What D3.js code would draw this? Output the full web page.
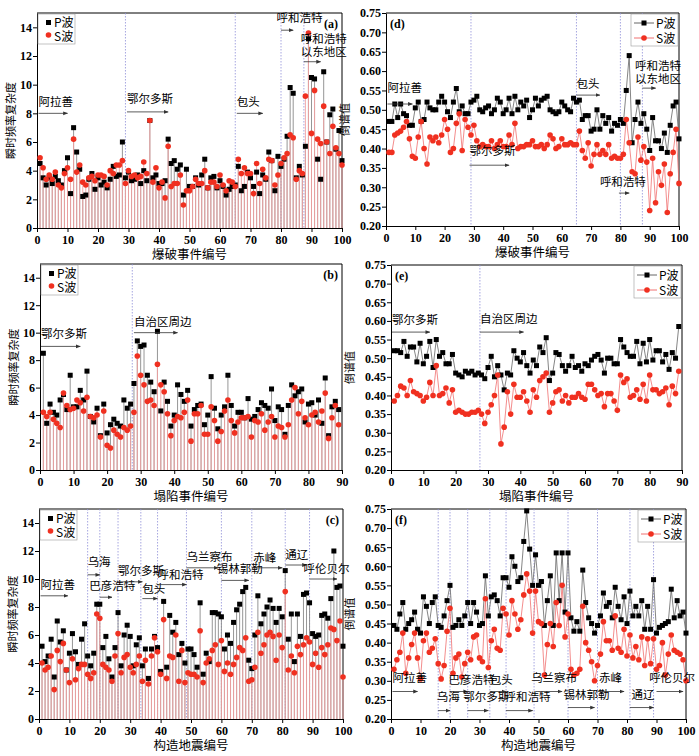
<!DOCTYPE html>
<html><head><meta charset="utf-8">
<script src="https://cdn.jsdelivr.net/npm/d3@7"></script>
<style>
body{margin:0;background:#fff}
text{font-family:"Liberation Serif","DejaVu Serif",serif}
.cjk{font-family:"Noto Sans CJK SC",sans-serif}
</style></head><body>
<svg id="chart" width="699" height="756"></svg>
<script>
// (a) blasting events, instantaneous frequency complexity
const aP = [4.5,3.5,3.0,3.5,3.1,3.6,3.3,3.0,4.0,4.9,2.4,7.0,5.3,4.1,2.2,2.3,3.4,3.8,2.7,3.5,3.0,3.2,2.8,3.4,4.3,3.6,3.7,6.0,3.5,3.9,3.3,3.4,3.7,3.1,4.0,3.3,7.5,3.5,3.7,3.1,3.1,3.3,6.2,4.5,4.7,4.1,4.4,2.3,4.1,2.9,2.9,3.5,3.0,3.7,4.8,2.8,3.5,3.6,2.8,3.3,2.9,2.3,2.7,2.9,3.0,4.3,2.6,2.9,3.9,3.5,2.9,3.9,2.4,3.7,3.4,5.3,4.7,2.6,5.0,4.3,4.8,6.4,9.8,9.4,3.5,4.3,3.7,5.7,13.2,10.5,10.4,4.8,3.4,10.9,6.0,7.9,8.3,5.5,6.8,4.7];
const aS = [4.9,4.2,3.4,3.7,3.4,3.9,3.0,2.8,3.8,4.2,3.4,6.2,3.9,4.4,3.2,3.0,3.5,3.6,3.3,3.7,3.7,3.6,3.0,4.0,3.8,4.4,4.4,4.7,3.1,4.0,3.6,3.7,3.5,3.6,4.6,3.8,7.5,3.2,4.2,2.8,3.2,2.1,5.7,2.9,3.1,3.1,3.7,1.6,2.6,2.6,2.9,3.4,3.1,3.1,4.0,2.8,3.2,3.2,2.9,3.7,3.0,2.6,3.3,3.2,2.9,4.8,3.8,4.2,3.8,3.8,2.4,4.5,3.1,4.1,3.5,4.8,4.7,3.0,3.7,4.5,4.9,5.2,6.5,6.3,3.4,4.0,3.8,9.2,13.6,6.6,9.6,6.2,5.9,8.5,6.0,5.2,7.1,5.6,5.2,4.4];
// (b) collapse events
const bP = [8.5,3.4,4.8,4.2,4.0,5.1,5.5,4.4,6.9,4.6,4.6,5.8,5.1,7.2,3.9,3.5,4.5,2.5,4.8,2.7,3.3,3.7,3.4,3.2,5.1,4.5,4.8,6.3,9.4,9.0,9.1,6.9,6.4,5.7,10.1,4.3,6.4,5.0,3.2,4.0,6.2,5.5,5.0,5.8,3.2,4.4,4.7,4.8,3.3,4.0,6.8,4.5,3.0,4.0,4.6,6.9,4.7,3.2,4.2,4.2,3.8,5.2,3.7,3.9,4.4,4.9,4.7,4.5,5.9,3.6,4.6,4.4,2.6,4.7,6.2,5.4,5.7,5.9,3.5,4.8,4.9,4.0,5.1,3.4,6.7,2.5,4.6,5.0,4.4];
const bS = [4.2,3.9,4.2,3.7,3.4,3.1,5.6,4.7,4.4,4.5,5.1,4.9,4.3,5.3,3.9,3.8,4.0,2.4,4.3,1.8,1.6,2.9,2.6,2.4,3.1,2.9,3.2,4.2,8.3,6.9,6.2,5.0,5.1,4.7,7.7,6.2,5.7,4.1,2.5,3.6,3.9,3.8,4.2,5.1,2.1,4.1,4.1,4.7,2.6,2.6,4.6,3.6,2.1,2.8,4.3,5.1,3.6,2.7,3.5,3.8,3.8,3.9,2.4,3.6,3.5,4.1,2.9,3.5,3.9,2.4,3.2,3.1,2.4,3.3,5.1,6.0,4.1,5.0,3.8,3.3,4.0,4.2,3.5,4.3,5.6,2.3,3.8,4.7,3.3];
// (c) tectonic earthquakes
const cP = [5.2,4.1,4.5,5.7,3.0,7.0,5.5,6.3,3.5,4.7,6.1,4.8,3.9,5.7,6.8,4.5,3.8,4.7,8.2,8.2,5.1,5.9,4.3,3.0,5.1,7.6,3.8,6.0,6.7,5.9,3.8,5.3,5.8,3.8,5.0,2.9,5.0,5.9,5.1,3.4,8.4,3.7,7.4,6.2,6.9,4.6,5.4,4.0,5.0,5.0,4.6,3.7,8.3,3.2,4.7,4.1,7.6,7.6,7.5,7.3,5.0,6.0,5.4,6.9,7.8,8.2,9.1,9.4,4.2,3.6,6.0,8.8,6.8,7.5,8.0,8.5,7.9,6.9,7.9,7.3,10.6,5.7,7.5,4.1,7.5,5.9,8.9,9.0,8.3,6.1,5.9,6.0,7.4,7.5,7.2,8.6,12.0,9.4,9.5,5.2];
const cS = [4.0,3.5,3.7,4.5,2.1,4.9,4.1,5.4,3.5,2.6,4.3,2.8,3.6,3.9,3.9,3.2,2.9,3.3,7.5,7.2,3.9,3.7,3.5,2.7,4.5,6.1,3.3,4.4,4.6,3.7,3.3,3.9,4.5,2.7,4.2,2.5,4.5,5.8,4.8,3.2,7.1,2.9,4.5,4.4,6.0,2.7,4.9,2.6,3.3,3.2,3.2,3.0,6.3,2.6,4.0,4.3,4.9,5.3,3.9,5.6,3.4,4.0,3.2,3.9,4.4,5.1,4.9,5.8,2.7,2.8,3.7,6.2,4.7,5.3,6.0,6.2,5.9,4.2,6.0,5.1,9.1,3.5,4.5,3.3,5.2,4.6,5.3,5.8,5.5,3.9,4.7,3.7,5.1,4.6,5.3,6.5,6.4,5.6,7.0,3.0];
// (d)(e)(f) cepstral values
const dP = [.47,.47,.515,.48,.515,.49,.485,.46,.46,.505,.52,.47,.475,.52,.505,.50,.50,.52,.535,.52,.495,.48,.52,.555,.495,.51,.49,.49,.52,.525,.535,.50,.495,.505,.51,.49,.50,.53,.52,.49,.50,.53,.49,.535,.50,.52,.51,.525,.48,.50,.53,.51,.525,.53,.535,.50,.495,.49,.495,.52,.51,.50,.495,.53,.52,.525,.475,.485,.485,.445,.45,.50,.45,.485,.465,.48,.445,.465,.46,.475,.465,.55,.64,.415,.475,.52,.465,.49,.45,.395,.48,.42,.42,.40,.44,.39,.46,.51,.52,.425];
const dS = [.39,.39,.435,.44,.445,.455,.47,.425,.38,.375,.43,.47,.40,.36,.43,.42,.43,.415,.435,.475,.45,.39,.40,.465,.49,.395,.475,.455,.435,.46,.42,.405,.41,.405,.405,.42,.40,.41,.42,.405,.405,.435,.41,.465,.40,.405,.405,.41,.41,.42,.405,.405,.41,.40,.41,.435,.425,.40,.405,.425,.41,.41,.415,.41,.41,.445,.395,.375,.415,.355,.385,.41,.385,.395,.385,.41,.375,.38,.375,.375,.385,.475,.415,.34,.335,.43,.37,.405,.365,.24,.375,.26,.34,.305,.36,.235,.335,.39,.45,.31];
const eP = [.52,.52,.515,.545,.505,.53,.53,.49,.54,.485,.505,.545,.475,.55,.505,.515,.485,.485,.51,.46,.455,.45,.465,.46,.465,.455,.46,.455,.445,.475,.505,.45,.48,.455,.415,.46,.455,.52,.50,.49,.515,.48,.46,.495,.48,.53,.515,.555,.44,.46,.515,.51,.48,.465,.48,.505,.475,.48,.465,.485,.48,.495,.505,.51,.495,.46,.50,.50,.485,.485,.55,.53,.515,.505,.505,.545,.485,.54,.49,.55,.495,.52,.52,.49,.51,.47,.515,.50,.585];
const eS = [.385,.40,.425,.42,.40,.44,.41,.405,.40,.385,.395,.435,.40,.48,.40,.405,.42,.38,.415,.355,.36,.355,.35,.35,.355,.355,.36,.35,.325,.355,.375,.40,.455,.27,.315,.41,.35,.43,.395,.395,.41,.385,.355,.415,.395,.44,.45,.46,.355,.38,.41,.415,.385,.40,.38,.395,.395,.405,.395,.39,.43,.43,.415,.40,.405,.37,.405,.405,.385,.36,.455,.435,.445,.395,.40,.415,.39,.43,.385,.455,.415,.415,.405,.41,.42,.375,.425,.405,.465];
const fP = [.445,.435,.475,.505,.435,.45,.46,.48,.435,.425,.52,.495,.45,.505,.52,.445,.44,.47,.51,.55,.44,.445,.46,.445,.47,.505,.45,.505,.48,.445,.45,.575,.47,.52,.525,.51,.47,.57,.57,.545,.625,.60,.56,.57,.665,.745,.645,.55,.63,.55,.56,.445,.51,.575,.445,.635,.51,.635,.48,.635,.465,.43,.455,.43,.59,.505,.465,.45,.425,.445,.47,.53,.495,.505,.465,.545,.495,.46,.52,.45,.535,.47,.495,.47,.51,.435,.495,.435,.565,.425,.44,.445,.45,.455,.54,.465,.51,.47,.48,.425];
const fS = [.33,.355,.375,.425,.32,.36,.395,.425,.36,.305,.405,.425,.375,.385,.41,.345,.305,.34,.43,.49,.32,.36,.37,.31,.345,.375,.355,.415,.42,.36,.35,.515,.335,.405,.435,.385,.38,.49,.475,.42,.51,.475,.435,.46,.525,.58,.535,.425,.535,.455,.45,.315,.395,.45,.39,.505,.445,.55,.415,.475,.33,.315,.32,.33,.495,.40,.38,.35,.30,.34,.37,.455,.405,.405,.38,.47,.385,.375,.435,.365,.42,.36,.39,.355,.415,.34,.41,.345,.41,.33,.34,.40,.315,.37,.42,.38,.375,.37,.355,.30];

const blastLines = [29, 65, 80, 87.5];
const collapseLines = [27.5];
const quakeLines = [16, 20, 26, 33.5, 39, 48.5, 60, 70, 81, 89];

// annotations: [text lines, textX, textY, arrowX1, arrowX2, arrowY]
const aNotes = [[['阿拉善'],0.5,8.5,0.5,10,8.0],[['鄂尔多斯'],29.5,8.7,29.5,43,8.1],[['包头'],65.5,8.5,65.5,74,8.0],
  [['呼和浩特'],78.5,14.4,80,84,13.8],[['呼和浩特','以东地区'],86.5,12.9,87.5,93,11.6]];
const dNotes = [[['阿拉善'],0.5,.545,0.5,9,.515],[['鄂尔多斯'],28.5,.384,28.5,42,.357],[['包头'],65,.557,65,73,.538],
  [['呼和浩特'],73,.302,79.5,83,.285],[['呼和浩特','以东地区'],85,.602,87.5,92,.556]];
const bNotes = [[['鄂尔多斯'],0.3,9.6,0.3,12,9.0],[['自治区周边'],28,10.5,28,41,10.0]];
const eNotes = [[['鄂尔多斯'],0.3,.592,0.3,12,.57],[['自治区周边'],27.5,.595,27.5,41,.57]];
const cNotes = [[['阿拉善'],0.5,9.3,0.5,9.5,8.8],[['乌海'],16,10.9,16,20,10.3],[['巴彦浩特'],16.5,9.2,20,24,8.7],
  [['鄂尔多斯'],26,10.3,26,34,9.8],[['包头'],34,9.0,34,39,8.6],[['呼和浩特'],39,10.0,39,48.5,9.6],
  [['乌兰察布'],48.5,11.3,48.5,59,10.8],[['锡林郭勒'],58.5,10.4,60,69,9.9],[['赤峰'],70.5,11.2,70,80,10.8],
  [['通辽'],81,11.4,81,88,11.0],[['呼伦贝尔'],87,10.4,89,98,10.0]];
const fNotes = [[['阿拉善'],0.5,.297,0.5,9,.272],[['乌海'],15.5,.247,16,20,.222],[['巴彦浩特'],19.5,.292,20,26,.272],
  [['鄂尔多斯'],24.5,.247,26,33,.222],[['包头'],33.5,.292,33.5,39,.272],[['呼和浩特'],38.5,.247,39,48,.222],
  [['乌兰察布'],47.5,.297,49,58,.272],[['锡林郭勒'],58.5,.252,60,69,.23],[['赤峰'],70.5,.297,70,79,.272],
  [['通辽'],81.5,.252,81,89,.23],[['呼伦贝尔'],87.5,.297,90,99,.272]];

const svg = d3.select('#chart');
const defs = svg.append('defs');
defs.append('marker').attr('id', 'arr').attr('viewBox', '0 0 10 10').attr('refX', 9).attr('refY', 5)
    .attr('markerWidth', 6).attr('markerHeight', 6).attr('orient', 'auto')
  .append('path').attr('d', 'M0,1L10,5L0,9Z').attr('fill', '#333');

function panel(o) {
  const g = svg.append('g');
  const x = d3.scaleLinear().domain([0, o.xmax]).range([o.l, o.r]);
  const y = d3.scaleLinear().domain(o.yd).range([o.b, o.t]);
  const xa = g.append('g').attr('transform', `translate(0,${o.b})`)
      .call(d3.axisBottom(x).ticks(o.xmax / 10).tickSize(4).tickSizeOuter(0));
  const ya = g.append('g').attr('transform', `translate(${o.l},0)`)
      .call(d3.axisLeft(y).tickValues(o.yt).tickFormat(o.yf).tickSize(4).tickSizeOuter(0));
  g.append('line').attr('x1', o.r).attr('x2', o.r).attr('y1', o.t).attr('y2', o.b).attr('stroke', '#000');
  g.append('line').attr('x1', o.l).attr('x2', o.r).attr('y1', o.t).attr('y2', o.t).attr('stroke', '#000');
  [xa, ya].forEach(a => a.selectAll('text').attr('font-size', 12).attr('font-weight', 'bold').attr('fill', '#000'));
  ya.selectAll('text').attr('x', -5);

  o.vlines.forEach(v => g.append('line').attr('x1', x(v)).attr('x2', x(v)).attr('y1', o.t).attr('y2', o.b)
      .attr('stroke', '#8f8fd8').attr('stroke-dasharray', '1.5,1.5').attr('stroke-width', 0.8));

  const pts = s => s.map((v, i) => [i + 1, v]);
  if (o.stem) {
    g.selectAll(null).data(pts(o.P)).join('line').attr('x1', d => x(d[0])).attr('x2', d => x(d[0]))
        .attr('y1', y(0)).attr('y2', d => y(d[1])).attr('stroke', '#8a8a8a').attr('stroke-width', 0.9);
    g.selectAll(null).data(pts(o.S)).join('line').attr('x1', d => x(d[0])).attr('x2', d => x(d[0]))
        .attr('y1', y(0)).attr('y2', d => y(d[1])).attr('stroke', '#f2a0a0').attr('stroke-width', 0.9);
  } else {
    const ln = d3.line().x(d => x(d[0])).y(d => y(d[1]));
    g.append('path').attr('d', ln(pts(o.P))).attr('fill', 'none').attr('stroke', '#666').attr('stroke-width', 0.8);
    g.append('path').attr('d', ln(pts(o.S))).attr('fill', 'none').attr('stroke', '#f07070').attr('stroke-width', 0.8);
  }
  g.selectAll(null).data(pts(o.P)).join('rect').attr('x', d => x(d[0]) - 2.5).attr('y', d => y(d[1]) - 2.5)
      .attr('width', 5).attr('height', 5).attr('fill', '#000');
  g.selectAll(null).data(pts(o.S)).join('circle').attr('cx', d => x(d[0])).attr('cy', d => y(d[1]))
      .attr('r', 2.8).attr('fill', '#f03020');

  o.notes.forEach(n => {
    n[0].forEach((t, k) => g.append('text').attr('class', 'cjk').attr('x', x(n[1])).attr('y', y(n[2]) + k * 13)
        .attr('font-size', 11.5).text(t));
    g.append('line').attr('x1', x(n[3])).attr('x2', x(n[4])).attr('y1', y(n[5])).attr('y2', y(n[5]))
        .attr('stroke', '#333').attr('stroke-width', 0.8).attr('marker-end', 'url(#arr)');
  });

  // legend
  if (o.stem) {
    const lg = g.append('g').attr('transform', `translate(${o.l + 1},${o.t + 1})`);
    lg.append('rect').attr('width', 37).attr('height', 30).attr('fill', '#fff').attr('stroke', '#999').attr('stroke-width', 0.6);
    lg.append('rect').attr('x', 8).attr('y', 6).attr('width', 5).attr('height', 5);
    lg.append('circle').attr('cx', 10.5).attr('cy', 21).attr('r', 2.8).attr('fill', '#f03020');
    lg.append('text').attr('class', 'cjk').attr('x', 16).attr('y', 13).attr('font-size', 12).text('P波');
    lg.append('text').attr('class', 'cjk').attr('x', 16).attr('y', 27).attr('font-size', 12).text('S波');
    g.append('text').attr('x', o.r - 4).attr('y', o.t + 15).attr('text-anchor', 'end').attr('font-size', 12)
        .attr('font-weight', 'bold').text(o.tag);
  } else {
    const lg = g.append('g').attr('transform', `translate(${o.r - 48},${o.t + 1})`);
    lg.append('rect').attr('width', 47).attr('height', 32).attr('fill', '#fff').attr('stroke', '#999').attr('stroke-width', 0.6);
    lg.append('line').attr('x1', 3).attr('x2', 23).attr('y1', 9).attr('y2', 9).attr('stroke', '#666');
    lg.append('rect').attr('x', 10.5).attr('y', 6.5).attr('width', 5).attr('height', 5);
    lg.append('line').attr('x1', 3).attr('x2', 23).attr('y1', 24).attr('y2', 24).attr('stroke', '#f07070');
    lg.append('circle').attr('cx', 13).attr('cy', 24).attr('r', 2.8).attr('fill', '#f03020');
    lg.append('text').attr('class', 'cjk').attr('x', 25).attr('y', 14).attr('font-size', 12).text('P波');
    lg.append('text').attr('class', 'cjk').attr('x', 25).attr('y', 29).attr('font-size', 12).text('S波');
    g.append('text').attr('x', o.l + 4).attr('y', o.t + 15).attr('font-size', 12).attr('font-weight', 'bold').text(o.tag);
  }
  g.append('text').attr('class', 'cjk').attr('x', (o.l + o.r) / 2).attr('y', o.b + 31).attr('text-anchor', 'middle')
      .attr('font-size', 12.5).text(o.xt);
  g.append('text').attr('class', 'cjk').attr('transform', `translate(${o.l - (o.stem ? 22 : 37)},${(o.t + o.b) / 2}) rotate(-90)`)
      .attr('text-anchor', 'middle').attr('font-size', 11).text(o.ytl);
}

const cplx = {yd: [0, 15], yt: [0, 2, 4, 6, 8, 10, 12, 14], yf: d3.format('d'), stem: true, ytl: '瞬时频率复杂度'};
const ceps = {yd: [0.2, 0.75], yt: d3.range(0.2, 0.751, 0.05), yf: d3.format('.2f'), stem: false, ytl: '倒谱值'};

panel({...cplx, l: 37, r: 342, t: 13, b: 228, xmax: 100, P: aP, S: aS, vlines: blastLines, notes: aNotes, tag: '(a)', xt: '爆破事件编号'});
panel({...ceps, l: 386, r: 679, t: 13, b: 226, xmax: 100, P: dP, S: dS, vlines: blastLines, notes: dNotes, tag: '(d)', xt: '爆破事件编号'});
panel({...cplx, l: 40, r: 342, t: 264, b: 470, xmax: 90, P: bP, S: bS, vlines: collapseLines, notes: bNotes, tag: '(b)', xt: '塌陷事件编号'});
panel({...ceps, l: 391, r: 682, t: 265, b: 470, xmax: 90, P: eP, S: eS, vlines: collapseLines, notes: eNotes, tag: '(e)', xt: '塌陷事件编号'});
panel({...cplx, l: 39, r: 343, t: 509, b: 719, xmax: 100, P: cP, S: cS, vlines: quakeLines, notes: cNotes, tag: '(c)', xt: '构造地震编号'});
panel({...ceps, l: 391, r: 686, t: 509, b: 719, xmax: 100, P: fP, S: fS, vlines: quakeLines, notes: fNotes, tag: '(f)', xt: '构造地震编号'});
</script></body></html>
